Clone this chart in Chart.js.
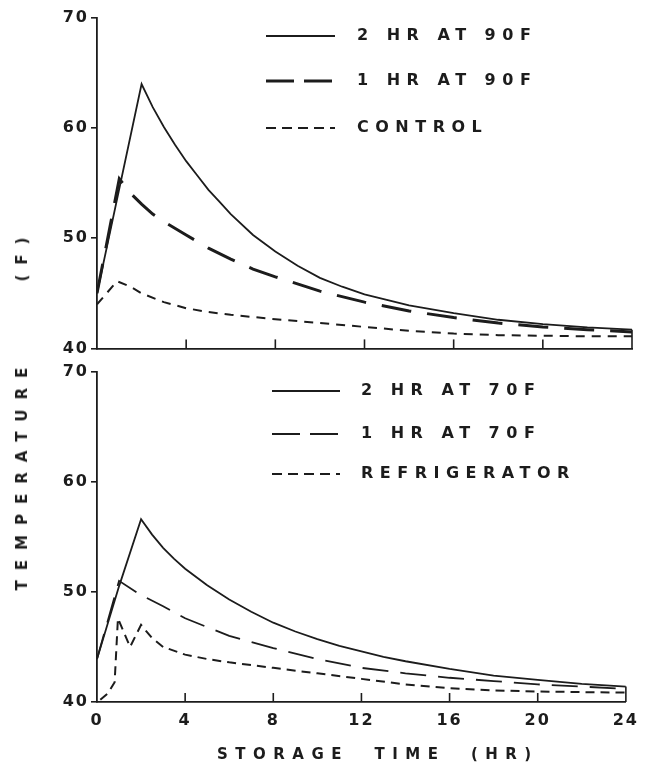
<!DOCTYPE html>
<html>
<head>
<meta charset="utf-8">
<script src="https://cdn.jsdelivr.net/npm/chart.js@4.4.0/dist/chart.umd.min.js"></script>
<style>
    body { margin: 0; background: #fff; width: 646px; height: 769px; overflow: hidden; position: relative;
           font-family: "DejaVu Sans", sans-serif; font-weight: bold; color: #1c1c1c; }
    canvas { position: absolute; left: 0; }
    #topChart { top: 0; }
    #bottomChart { top: 360px; }
    #yTitle { position: absolute; left: 22px; top: 409px; transform: translate(-50%, -50%) rotate(-90deg);
              white-space: pre; letter-spacing: 10px; font-size: 15px; }
    #xTitle { position: absolute; left: 217px; top: 745px; white-space: pre; letter-spacing: 7.5px; font-size: 15px; }
</style>
</head>
<body>
<canvas id="topChart" width="646" height="360"></canvas>
<canvas id="bottomChart" width="646" height="409"></canvas>
<div id="yTitle">TEMPERATURE     (F)</div>
<div id="xTitle">STORAGE  TIME  (HR)</div>

<script>
// === Axis ticks ===
const xTicks = [0, 4, 8, 12, 16, 20, 24];
const yTicks = [40, 50, 60, 70];

// === Top panel: warm at 90F ===
const hot2hrTime = [0, 2, 2.5, 3, 3.5, 4, 4.5, 5, 5.5, 6, 7, 8, 9, 10, 11, 12, 13, 14, 16, 18, 20, 22, 24];
const hot2hrTemp = [45, 64, 61.9, 60.1, 58.5, 57.0, 55.7, 54.4, 53.3, 52.2, 50.3, 48.8, 47.5, 46.4, 45.6, 44.9, 44.4, 43.9, 43.2, 42.6, 42.2, 41.9, 41.7];

const hot1hrTime = [0, 1, 1.5, 2, 2.5, 3, 4, 5, 6, 7, 8, 10, 12, 14, 16, 18, 20, 22, 24];
const hot1hrTemp = [45, 55.4, 54.1, 53.1, 52.2, 51.5, 50.3, 49.1, 48.1, 47.2, 46.5, 45.2, 44.2, 43.4, 42.8, 42.3, 41.95, 41.7, 41.5];

const controlTime = [0, 0.9, 1.5, 2, 3, 4, 5, 6, 8, 10, 12, 14, 16, 18, 20, 22, 24];
const controlTemp = [44.0, 46.1, 45.6, 45.0, 44.2, 43.65, 43.3, 43.05, 42.65, 42.3, 41.95, 41.6, 41.35, 41.2, 41.15, 41.1, 41.1];

// === Bottom panel: warm at 70F ===
const warm2hrTime = [0, 1, 2, 2.5, 3, 3.5, 4, 5, 6, 7, 8, 9, 10, 11, 12, 13, 14, 16, 18, 20, 22, 24];
const warm2hrTemp = [43.9, 50.5, 56.6, 55.2, 54.0, 53.0, 52.1, 50.6, 49.3, 48.2, 47.2, 46.4, 45.7, 45.1, 44.6, 44.1, 43.7, 43.0, 42.4, 42.0, 41.65, 41.4];

const warm1hrTime = [0, 1, 2, 3, 4, 5, 6, 8, 10, 12, 14, 16, 18, 20, 22, 24];
const warm1hrTemp = [43.9, 51.0, 49.7, 48.7, 47.6, 46.8, 46.0, 44.9, 43.9, 43.1, 42.6, 42.2, 41.9, 41.6, 41.4, 41.2];

const fridgeTime = [0.15, 0.5, 0.8, 0.95, 1.5, 2, 2.5, 3, 4, 5, 6, 8, 10, 12, 14, 16, 18, 20, 22, 24];
const fridgeTemp = [40.2, 40.8, 41.8, 47.6, 45.0, 47.0, 45.8, 45.0, 44.3, 43.9, 43.6, 43.1, 42.6, 42.1, 41.6, 41.25, 41.05, 40.95, 40.9, 40.85];

const INK = "#1c1c1c";
const FONT = "'DejaVu Sans', sans-serif";

// Pair up time / temperature arrays into {x, y} points
function toPoints(times, temps) {
    return times.map((t, i) => ({ x: t, y: temps[i] }));
}

function series(label, times, temps, width, dash) {
    return {
        label: label,
        data: toPoints(times, temps),
        borderColor: INK,
        borderWidth: width,
        borderDash: dash,
        pointRadius: 0,
        tension: 0,
        fill: false
    };
}

// === Small upward ticks on the time axis + closing line at 24 hr ===
const innerTicks = {
    id: "innerTicks",
    beforeDraw(chart) {
        chart.ctx.letterSpacing = "2px";
    },
    afterDraw(chart) {
        const { ctx, scales: { x, y } } = chart;
        ctx.save();
        ctx.strokeStyle = INK;
        ctx.lineWidth = 1.6;
        xTicks.slice(1, -1).forEach(v => {
            const px = x.getPixelForValue(v);
            ctx.beginPath();
            ctx.moveTo(px, y.bottom);
            ctx.lineTo(px, y.bottom - 9);
            ctx.stroke();
        });
        // the original closes the curves with a short upright at the last hour
        const first = chart.data.datasets[0].data;
        const last = first[first.length - 1];
        ctx.beginPath();
        ctx.moveTo(x.getPixelForValue(last.x), y.bottom);
        ctx.lineTo(x.getPixelForValue(last.x), y.getPixelForValue(last.y));
        ctx.stroke();
        ctx.restore();
        ctx.letterSpacing = "0px";
    }
};

// === Legend drawn inside the plot, top right ===
const panelLegend = {
    id: "panelLegend",
    afterDatasetsDraw(chart, args, opts) {
        const ctx = chart.ctx;
        ctx.save();
        chart.data.datasets.forEach((ds, i) => {
            const yPos = opts.rows[i];
            ctx.strokeStyle = INK;
            ctx.lineWidth = ds.borderWidth;
            ctx.setLineDash(opts.dashes[i]);
            ctx.beginPath();
            ctx.moveTo(opts.lineFrom, yPos);
            ctx.lineTo(opts.lineTo, yPos);
            ctx.stroke();

            ctx.setLineDash([]);
            ctx.fillStyle = INK;
            ctx.font = `bold 16px ${FONT}`;
            ctx.letterSpacing = "6.5px";
            ctx.textBaseline = "middle";
            ctx.textAlign = "left";
            ctx.fillText(ds.label, opts.textX, yPos);
        });
        ctx.restore();
    }
};

function makePanel(canvasId, datasets, legendOpts, showXLabels, padding, xHeight) {
    return new Chart(document.getElementById(canvasId), {
        type: "line",
        data: { datasets: datasets },
        plugins: [innerTicks, panelLegend],
        options: {
            responsive: false,
            animation: false,
            devicePixelRatio: 1,
            layout: { padding: padding },
            plugins: {
                legend: { display: false },
                tooltip: { enabled: false },
                panelLegend: legendOpts
            },
            scales: {
                x: {
                    type: "linear",
                    min: 0,
                    max: 24,
                    afterBuildTicks: s => { s.ticks = xTicks.map(v => ({ value: v })); },
                    afterFit: s => { s.height = xHeight; },
                    grid: { drawOnChartArea: false, drawTicks: false },
                    border: { color: INK, width: 1.8 },
                    ticks: {
                        display: showXLabels,
                        padding: 9,
                        color: INK,
                        font: { family: FONT, size: 16, weight: "bold" },
                        maxRotation: 0
                    }
                },
                y: {
                    type: "linear",
                    min: 40,
                    max: 70,
                    afterBuildTicks: s => { s.ticks = yTicks.map(v => ({ value: v })); },
                    afterFit: s => { s.width = 97; },
                    grid: { drawOnChartArea: false, drawTicks: true, tickLength: 6, color: INK, lineWidth: 1.6 },
                    border: { color: INK, width: 1.8 },
                    ticks: {
                        padding: 2,
                        color: INK,
                        font: { family: FONT, size: 16, weight: "bold" }
                    }
                }
            }
        }
    });
}

// === Top panel ===
makePanel("topChart", [
    series("2 HR AT 90F", hot2hrTime, hot2hrTemp, 1.8, []),
    series("1 HR AT 90F", hot1hrTime, hot1hrTemp, 3, [30, 16]),
    series("CONTROL", controlTime, controlTemp, 2, [9, 7])
], {
    rows: [36, 81, 128],
    dashes: [[], [28, 10], [10, 6]],
    lineFrom: 266, lineTo: 335, textX: 357
}, false, { left: 0, right: 14, top: 18, bottom: 10 }, 0);

// === Bottom panel ===
makePanel("bottomChart", [
    series("2 HR AT 70F", warm2hrTime, warm2hrTemp, 1.8, []),
    series("1 HR AT 70F", warm1hrTime, warm1hrTemp, 1.8, [26, 12]),
    series("REFRIGERATOR", fridgeTime, fridgeTemp, 2, [9, 6])
], {
    rows: [31, 74, 114],
    dashes: [[], [28, 10], [10, 6]],
    lineFrom: 272, lineTo: 340, textX: 361
}, true, { left: 0, right: 14, top: 11, bottom: 0 }, 67);
</script>
</body>
</html>
